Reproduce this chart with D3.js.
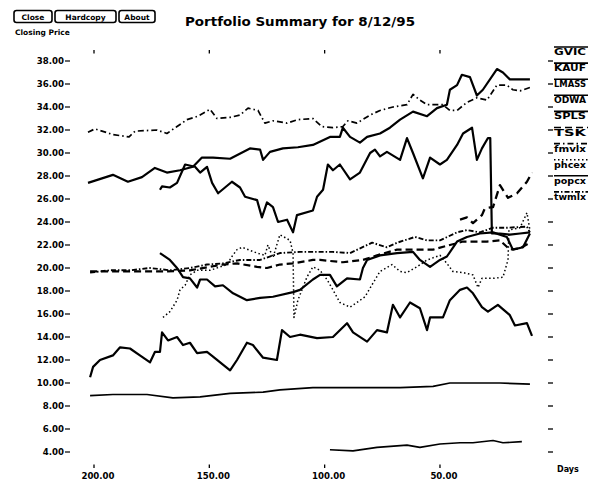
<!DOCTYPE html>
<html>
<head>
<meta charset="utf-8">
<script src="https://cdn.jsdelivr.net/npm/d3@7.9.0/dist/d3.min.js"></script>
<style>
  body { margin: 0; background: #fff; }
  svg { display: block; font-family: "DejaVu Sans", sans-serif; font-weight: bold; }
</style>
</head>
<body>
<svg id="chart" width="594" height="480"></svg>
<script>
// ---- data (days ago, closing price) ----
const gvicDays  = [202.6,191.8,185.3,179.2,173.6,168.4,162.7,157.1,153.2,148.4,141.0,132.4,128.0,126.7,123.7,118.1,111.6,105.1,97.7,93.4,92.1,89.0,84.7,81.6,76.0,71.7,67.3,61.7,55.6,51.3,47.0,45.7,42.6,40.5,37.0,34.0,31.4,25.3,22.7,19.7,15.3,11.0];
const gvicPrice = [27.4,28.1,27.5,27.9,28.7,28.3,28.5,28.8,29.6,29.6,29.5,30.4,30.3,29.4,30.1,30.4,30.5,30.7,31.4,31.4,32.2,31.4,30.9,31.4,31.7,32.2,32.9,33.6,33.2,33.9,34.2,35.5,35.9,36.8,36.6,35.0,35.5,37.3,37.0,36.4,36.4,36.4];

const kaufDays  = [171.4,170.5,167.1,164.0,160.5,156.2,154.0,151.0,148.8,146.2,143.2,140.2,136.7,134.5,129.3,127.2,125.0,122.4,120.2,116.3,113.7,112.0,105.1,103.3,100.7,98.6,96.4,93.4,89.0,84.7,80.3,78.2,76.0,73.0,67.3,64.3,61.7,57.4,54.3,50.0,47.0,42.6,40.0,36.1,34.0,31.8,29.2,28.2,27.5,24.0,19.7,15.3,11.0];
const kaufPrice = [26.8,27.1,27.0,27.4,29.0,28.8,28.3,28.8,27.4,26.5,27.0,27.5,27.0,26.2,25.9,24.4,25.7,25.3,24.0,24.2,23.1,24.6,25.0,26.2,26.8,29.0,28.5,29.0,27.7,28.3,30.0,30.3,29.7,30.1,29.4,31.3,30.0,27.8,29.6,29.0,29.4,30.7,31.7,32.2,29.4,30.4,31.3,31.3,23.0,23.0,22.9,23.0,23.1];

const lmassDays  = [171.4,167.1,164.0,161.4,158.4,155.3,154.0,151.0,147.5,144.1,139.7,133.7,128.0,122.4,113.7,110.7,105.1,102.0,97.7,94.7,90.3,84.7,83.4,81.6,76.0,68.6,61.7,58.7,54.3,50.0,47.0,42.6,38.3,32.7,27.0,21.0,18.4,14.0,11.0];
const lmassPrice = [21.3,20.7,20.0,19.2,19.1,18.3,19.0,19.0,18.4,18.5,17.8,17.2,17.4,17.5,17.9,18.1,19.0,19.4,19.4,18.4,19.1,19.0,20.0,20.7,21.1,21.3,21.4,20.7,20.1,20.7,21.0,22.3,22.7,23.0,23.1,22.7,21.6,21.8,23.0];

const odwaDays  = [201.7,200.4,197.4,191.8,188.7,184.4,180.1,175.7,173.6,171.4,170.5,167.9,164.0,161.4,158.4,155.3,151.0,148.4,144.1,141.0,138.0,133.7,131.1,126.7,120.7,118.5,115.0,110.7,103.3,96.4,90.3,87.7,81.6,77.3,73.0,70.4,67.3,63.0,58.7,55.6,54.3,48.7,45.7,41.3,38.3,35.7,31.8,29.2,24.9,19.7,17.5,12.3,10.1];
const odwaPrice = [10.5,11.4,12.0,12.4,13.1,13.0,12.4,11.8,12.7,12.7,14.4,13.7,14.0,13.3,13.5,12.6,12.7,12.3,11.6,11.1,12.0,13.5,13.3,12.2,12.0,14.6,14.0,14.2,13.9,14.0,15.2,14.4,13.6,14.6,14.4,16.8,15.7,17.0,16.5,14.6,15.7,15.7,17.2,18.1,18.3,17.8,16.6,16.2,16.8,15.9,15.0,15.2,14.1];

const splsDays  = [201.7,191.8,177.0,165.8,154.0,141.0,126.7,119.4,105.1,81.6,67.3,53.0,45.7,38.3,24.0,11.0];
const splsPrice = [8.9,9.0,9.0,8.7,8.8,9.1,9.2,9.4,9.6,9.6,9.6,9.7,10.0,10.0,10.0,9.9];

const tskDays  = [201.7,177.0,168.4,158.4,144.1,138.0,129.3,125.0,119.4,113.7,105.1,102.0,92.1,83.4,77.3,68.6,58.7,53.0,45.7,40.0,29.6,24.0,19.7,15.3,11.0];
const tskPrice = [19.7,19.7,19.7,19.8,20.3,20.4,20.1,20.0,20.3,20.4,20.7,20.7,20.5,20.7,21.1,21.6,21.6,21.6,22.0,22.3,22.3,22.4,21.6,21.7,22.2];

const fmvlxDays  = [202.6,199.6,191.8,184.8,182.2,172.7,168.4,164.0,159.7,154.9,149.7,146.7,141.0,136.7,133.2,128.9,125.9,122.4,116.3,111.6,105.1,101.2,96.4,92.1,89.9,86.0,80.3,76.0,70.4,64.3,61.7,58.7,55.6,48.7,45.7,42.6,38.3,34.0,29.6,25.3,21.0,18.4,15.3,11.0];
const fmvlxPrice = [31.8,32.1,31.6,31.4,31.9,32.0,31.7,32.3,32.9,33.2,33.8,33.0,33.1,33.3,33.9,33.7,32.6,32.8,32.6,32.9,33.0,32.3,32.2,32.3,32.8,32.6,33.3,33.7,34.0,34.2,35.1,34.6,34.2,34.2,33.7,33.7,34.4,34.8,34.6,35.9,35.9,35.5,35.4,35.7];

const phcexDays  = [170.1,167.1,164.0,162.7,160.5,158.4,155.3,149.7,142.3,140.2,138.0,135.8,129.3,125.9,124.6,122.4,119.4,115.0,113.7,113.3,111.6,107.7,105.1,102.0,99.0,96.4,93.4,89.0,86.0,82.5,79.0,76.0,70.8,67.3,64.3,60.0,55.6,50.0,47.0,44.4,40.0,35.7,33.5,31.8,27.0,22.7,20.5,20.1,15.3,12.3,11.0];
const phcexPrice = [15.7,16.2,17.2,18.1,18.5,19.4,19.8,19.8,20.3,21.0,21.6,21.8,21.3,21.1,22.0,20.9,22.9,22.4,21.3,15.7,17.2,19.2,20.1,19.8,19.0,18.1,17.0,16.6,17.0,17.5,18.7,19.7,20.3,19.7,19.6,20.1,20.7,21.1,20.4,19.7,19.6,19.4,18.3,19.1,19.1,19.2,20.7,23.3,23.5,24.8,23.3];

const popcxDays  = [97.7,87.7,77.3,64.3,58.7,50.0,41.3,35.7,27.0,22.7,14.5];
const popcxPrice = [4.2,4.1,4.4,4.6,4.4,4.7,4.8,4.8,5.0,4.8,4.9];

const twmlxDays  = [201.7,193.1,184.4,175.7,167.1,158.4,151.0,144.1,136.7,128.0,119.4,110.7,96.4,89.0,79.4,73.0,68.6,60.8,55.6,50.0,42.6,38.3,32.7,27.0,21.0,12.3,11.0];
const twmlxPrice = [19.6,19.8,19.8,20.0,19.8,20.0,20.3,20.4,20.7,20.7,21.3,21.4,21.4,21.3,22.2,21.8,22.2,22.7,22.4,22.4,23.1,23.3,23.1,23.5,23.5,23.6,23.1];

// short extra trace near the right edge (no legend entry)
const extraDays  = [41.3,38.3,35.7,31.8,30.5,27.0,24.0,20.5,16.6,12.3,10.1];
const extraPrice = [24.2,24.4,23.9,24.6,25.2,25.3,27.2,26.1,26.5,27.5,28.3];

const legendNames = ["GVIC","KAUF","LMASS","ODWA","SPLS","TSK","fmvlx","phcex","popcx","twmlx"];
const yTicks = d3.range(4, 39, 2);
const xTicks = [200, 150, 100, 50];

const series = [
  { name: "GVIC",  days: gvicDays,  price: gvicPrice,  w: 2.2, dash: null },
  { name: "KAUF",  days: kaufDays,  price: kaufPrice,  w: 2.2, dash: null },
  { name: "LMASS", days: lmassDays, price: lmassPrice, w: 2.2, dash: null },
  { name: "ODWA",  days: odwaDays,  price: odwaPrice,  w: 2.2, dash: null },
  { name: "SPLS",  days: splsDays,  price: splsPrice,  w: 1.7, dash: null },
  { name: "TSK",   days: tskDays,   price: tskPrice,   w: 2.2, dash: "7,4" },
  { name: "fmvlx", days: fmvlxDays, price: fmvlxPrice, w: 1.7, dash: "6,3,1.5,3" },
  { name: "phcex", days: phcexDays, price: phcexPrice, w: 1.5, dash: "1.5,2.5" },
  { name: "popcx", days: popcxDays, price: popcxPrice, w: 1.6, dash: null },
  { name: "twmlx", days: twmlxDays, price: twmlxPrice, w: 1.9, dash: "5,2,1.5,2" },
  { name: "",      days: extraDays, price: extraPrice, w: 2.3, dash: "8,5" }
];

const svg = d3.select("#chart");

// scales: days ago run right to left
const x = d3.scaleLinear().domain([200, 0]).range([94, 555.3]);
const y = d3.scaleLinear().domain([4, 38]).range([452, 61]);

// buttons
const buttons = [
  { label: "Close", x0: 14, x1: 52 },
  { label: "Hardcopy", x0: 55, x1: 116 },
  { label: "About", x0: 119, x1: 155 }
];
const btn = svg.selectAll("g.btn").data(buttons).enter().append("g");
btn.append("rect")
  .attr("x", d => d.x0).attr("y", 10.5)
  .attr("width", d => d.x1 - d.x0).attr("height", 12)
  .attr("rx", 2.5)
  .attr("fill", "#fff").attr("stroke", "#000").attr("stroke-width", 1.6);
btn.append("text")
  .attr("x", d => (d.x0 + d.x1) / 2).attr("y", 19.5)
  .attr("text-anchor", "middle").attr("font-size", 7.5)
  .text(d => d.label);

svg.append("text").attr("x", 15).attr("y", 34.5).attr("font-size", 7.5).text("Closing Price");

svg.append("text")
  .attr("x", 185).attr("y", 25.5)
  .attr("font-size", 13)
  .attr("textLength", 230).attr("lengthAdjust", "spacingAndGlyphs")
  .text("Portfolio Summary for 8/12/95");

// left axis labels with tick dash
const yl = svg.append("g");
yl.selectAll("text").data(yTicks).enter().append("text")
  .attr("x", 64).attr("y", d => y(d) + 3.2)
  .attr("text-anchor", "end").attr("font-size", 8.6)
  .text(d => d3.format(".2f")(d));
yl.selectAll("line").data(yTicks).enter().append("line")
  .attr("x1", 65).attr("x2", 70)
  .attr("y1", d => y(d)).attr("y2", d => y(d))
  .attr("stroke", "#000").attr("stroke-width", 1.2);

// right axis ticks
svg.append("g").selectAll("line").data(yTicks).enter().append("line")
  .attr("x1", 548).attr("x2", 553)
  .attr("y1", d => y(d)).attr("y2", d => y(d))
  .attr("stroke", "#000").attr("stroke-width", 1.3);

// top and bottom day ticks
const xt = svg.append("g");
xt.selectAll("line.top").data(xTicks).enter().append("line")
  .attr("x1", d => x(d)).attr("x2", d => x(d))
  .attr("y1", 50).attr("y2", 53.5)
  .attr("stroke", "#000").attr("stroke-width", 1.3);
xt.selectAll("line.bot").data(xTicks).enter().append("line")
  .attr("x1", d => x(d)).attr("x2", d => x(d))
  .attr("y1", 464.5).attr("y2", 468)
  .attr("stroke", "#000").attr("stroke-width", 1.3);
xt.selectAll("text").data(xTicks).enter().append("text")
  .attr("x", d => x(d) + 4).attr("y", 479)
  .attr("text-anchor", "middle").attr("font-size", 8.6)
  .text(d => d3.format(".2f")(d));

svg.append("text").attr("x", 557).attr("y", 472).attr("font-size", 8).text("Days");

// price lines
const line = d3.line()
  .x(d => x(d[0]))
  .y(d => y(d[1]));

svg.append("g").selectAll("path").data(series).enter().append("path")
  .attr("d", s => line(d3.zip(s.days, s.price)))
  .attr("fill", "none")
  .attr("stroke", "#000")
  .attr("stroke-width", s => s.w)
  .attr("stroke-linejoin", "round")
  .attr("stroke-dasharray", s => s.dash);

// legend: name with a line sample over it
const legendSeries = series.filter(s => legendNames.includes(s.name));
const lg = svg.append("g").selectAll("g").data(legendSeries).enter().append("g")
  .attr("transform", (d, i) => `translate(554, ${52 + i * 16.1})`);
lg.append("line")
  .attr("x1", 0).attr("x2", 34).attr("y1", -5).attr("y2", -5)
  .attr("stroke", "#000")
  .attr("stroke-width", d => Math.min(d.w, 1.6))
  .attr("stroke-dasharray", d => d.dash);
lg.append("text")
  .attr("x", 0).attr("y", 3)
  .attr("font-size", 8)
  .attr("textLength", 32).attr("lengthAdjust", "spacingAndGlyphs")
  .text(d => d.name);
</script>
</body>
</html>
